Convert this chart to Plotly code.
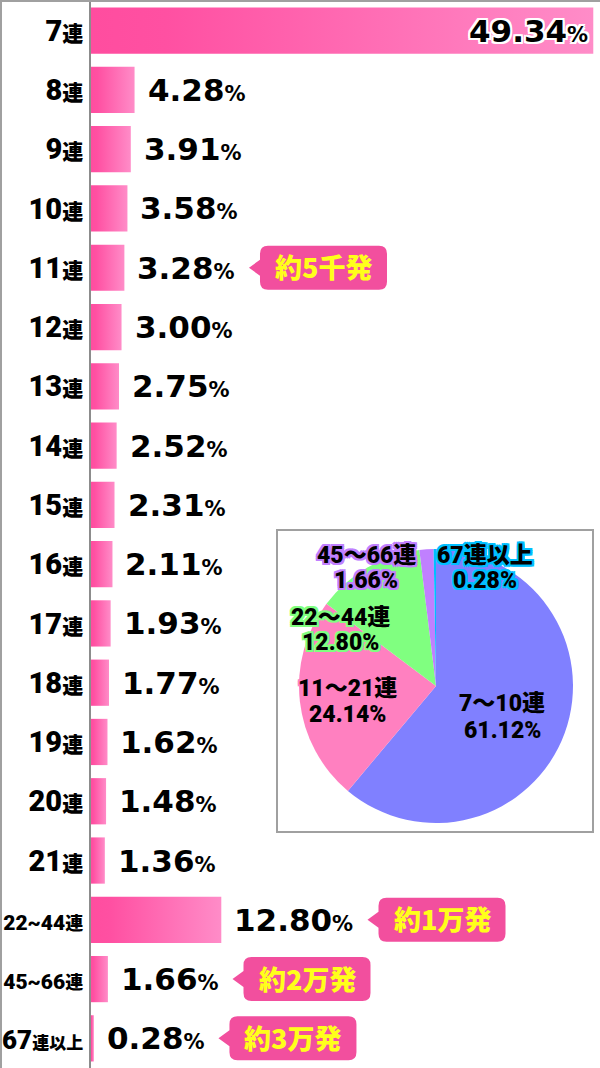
import re
import plotly.graph_objects as go

# ---------------- data ----------------
categories = ["7連", "8連", "9連", "10連", "11連", "12連", "13連", "14連", "15連",
              "16連", "17連", "18連", "19連", "20連", "21連", "22~44連", "45~66連", "67連以上"]
values = [49.34, 4.28, 3.91, 3.58, 3.28, 3.00, 2.75, 2.52, 2.31,
          2.11, 1.93, 1.77, 1.62, 1.48, 1.36, 12.80, 1.66, 0.28]
callout_rows = ["11連", "22~44連", "45~66連", "67連以上"]
callout_texts = ["約5千発", "約1万発", "約2万発", "約3万発"]

pie_labels = ["7～10連", "11～21連", "22～44連", "45～66連", "67連以上"]
pie_values = [61.12, 24.14, 12.80, 1.66, 0.28]
pie_pct_text = ["61.12%", "24.14%", "12.80%", "1.66%", "0.28%"]

# ---------------- style ----------------
W, H = 600, 1068
NARROW = "Roboto, Noto Sans CJK JP, sans-serif"
CJK = "Noto Sans CJK JP"
pie_colors = ["#8080ff", "#ff80c0", "#80ff80", "#c080ff", "#00bfff"]
pie_stroke = [None, "#ff80c0", "#80ff80", "#c080ff", "#00bfff"]
# label centres (pixels) for the pie labels: (x, y_name, y_pct)
pie_label_pos = [(502, 704, 730), (347, 688, 714), (340, 617, 642), (366, 555, 580), (485, 555, 580)]
HALF = 0.39
callout_color = "#f24f9e"


def px(x):
    return x / W


def py(y):
    return 1 - y / H


def stroke(c, w=2):
    offs = [(w, 0), (-w, 0), (0, w), (0, -w), (w, w), (-w, -w), (w, -w), (-w, w)]
    return ", ".join(f"{a}px {b}px 0 {c}" for a, b in offs)


def tick_html(lab):
    m = re.match(r"([0-9~]+)(.*)", lab)
    num, rest = m.group(1), m.group(2)
    if "~" in num:
        nsize, rsize = 21, 18
    elif len(rest) > 1:
        nsize, rsize = 26, 17
    else:
        nsize, rsize = 29, 21
    return (f'<span style="font-size:{nsize}px">{num}</span>'
            f'<span style="font-family:\'{CJK}\';font-size:{rsize}px">{rest}</span>')


def val_html(v):
    return f'{v:.2f}<span style="font-size:21px">%</span>'


fig = go.Figure()

# bars (gradient filled rectangles drawn in data coordinates)
for i, v in enumerate(values):
    fig.add_trace(go.Scatter(
        x=[0, v, v, 0, 0], y=[i - HALF, i - HALF, i + HALF, i + HALF, i - HALF],
        mode="none", fill="toself",
        fillgradient=dict(type="horizontal",
                          colorscale=[[0, "#ff4d9f"], [0.15, "#ff50a2"], [1, "#ff8cc8"]]),
        hoverinfo="text", hovertext=f"{categories[i]}: {v:.2f}%",
        showlegend=False))

annotations = []
shapes = []

# value labels
for i, v in enumerate(values):
    if v > 40:
        annotations.append(dict(
            x=v, y=i, xref="x", yref="y", xanchor="right", yanchor="middle", xshift=-3,
            text=val_html(v), showarrow=False,
            font=dict(family="DejaVu Sans", size=31, color="black", weight="bold",
                      shadow=stroke("#ffffff", 2))))
    else:
        annotations.append(dict(
            x=v, y=i, xref="x", yref="y", xanchor="left", yanchor="middle", xshift=11,
            text=val_html(v), showarrow=False,
            font=dict(family="DejaVu Sans", size=31, color="black", weight="bold")))

# callouts
BOX_W, BOX_H, TIP = 127, 44, 11
for row, txt in zip(callout_rows, callout_texts):
    i = categories.index(row)
    v = values[i]
    ndig = sum(c.isdigit() for c in f"{v:.2f}")
    est_w = ndig * 21.6 + 11.8 + 21
    o = 11 + est_w + 16
    l = o + TIP
    r = l + BOX_W
    h = BOX_H / 2
    rad = 8
    path = (f"M {o},0 L {l},-8 L {l},{-h + rad} Q {l},{-h} {l + rad},{-h} "
            f"L {r - rad},{-h} Q {r},{-h} {r},{-h + rad} L {r},{h - rad} Q {r},{h} {r - rad},{h} "
            f"L {l + rad},{h} Q {l},{h} {l},{h - rad} L {l},8 Z")
    shapes.append(dict(type="path", xref="x", yref="y", xsizemode="pixel", ysizemode="pixel",
                       xanchor=v, yanchor=i, path=path, fillcolor=callout_color,
                       line=dict(width=0), layer="above"))
    annotations.append(dict(
        x=v, y=i, xref="x", yref="y", xanchor="center", yanchor="middle",
        xshift=l + BOX_W / 2, yshift=1, text=txt, showarrow=False,
        font=dict(family=CJK, size=27, color="#ffff1a", weight=900)))

# pie
fig.add_trace(go.Pie(
    labels=pie_labels, values=pie_values, sort=False, direction="clockwise", rotation=0,
    marker=dict(colors=pie_colors, line=dict(width=0)), textinfo="none",
    hoverinfo="label+percent", showlegend=False,
    domain=dict(x=[px(299), px(573)], y=[py(823), py(549)])))

for lab, pct, (cx, y1, y2), sc in zip(pie_labels, pie_pct_text, pie_label_pos, pie_stroke):
    f = dict(family=NARROW, size=23, color="black", weight=900)
    if sc:
        f["shadow"] = stroke(sc, 2)
    annotations.append(dict(x=px(cx), y=py(y1), xref="paper", yref="paper", xanchor="center",
                            yanchor="middle", text=lab, showarrow=False, font=f))
    annotations.append(dict(x=px(cx), y=py(y2), xref="paper", yref="paper", xanchor="center",
                            yanchor="middle", text=pct, showarrow=False, font=f))

# pie frame
shapes.append(dict(type="rect", xref="paper", yref="paper", x0=px(277), x1=px(593),
                   y0=py(832), y1=py(530), line=dict(color="#a0a0a0", width=2), layer="below"))
# outer borders (left and top)
shapes.append(dict(type="line", xref="paper", yref="paper", x0=px(1), x1=px(1), y0=0, y1=1,
                   line=dict(color="#a0a0a0", width=2)))
shapes.append(dict(type="line", xref="paper", yref="paper", x0=0, x1=1, y0=py(1), y1=py(1),
                   line=dict(color="#a0a0a0", width=2)))

fig.update_layout(
    width=W, height=H, margin=dict(l=0, r=0, t=0, b=0, autoexpand=False),
    paper_bgcolor="white", plot_bgcolor="white", showlegend=False,
    xaxis=dict(visible=False, range=[0, 50], domain=[px(91), 1], fixedrange=True,
               automargin=False),
    yaxis=dict(range=[17.5, -0.5], domain=[0, py(1)], tickvals=list(range(len(categories))),
               ticktext=[tick_html(c) for c in categories], showline=True, linecolor="#8c8c8c",
               linewidth=2, showgrid=False, zeroline=False, ticks="", fixedrange=True,
               automargin=False,
               tickfont=dict(family=NARROW, size=29, color="black", weight=900)),
    annotations=annotations, shapes=shapes,
)

fig.write_html("out.html", config={"displayModeBar": False},
               post_script="document.body.style.margin='0';document.body.style.overflow='hidden';")
